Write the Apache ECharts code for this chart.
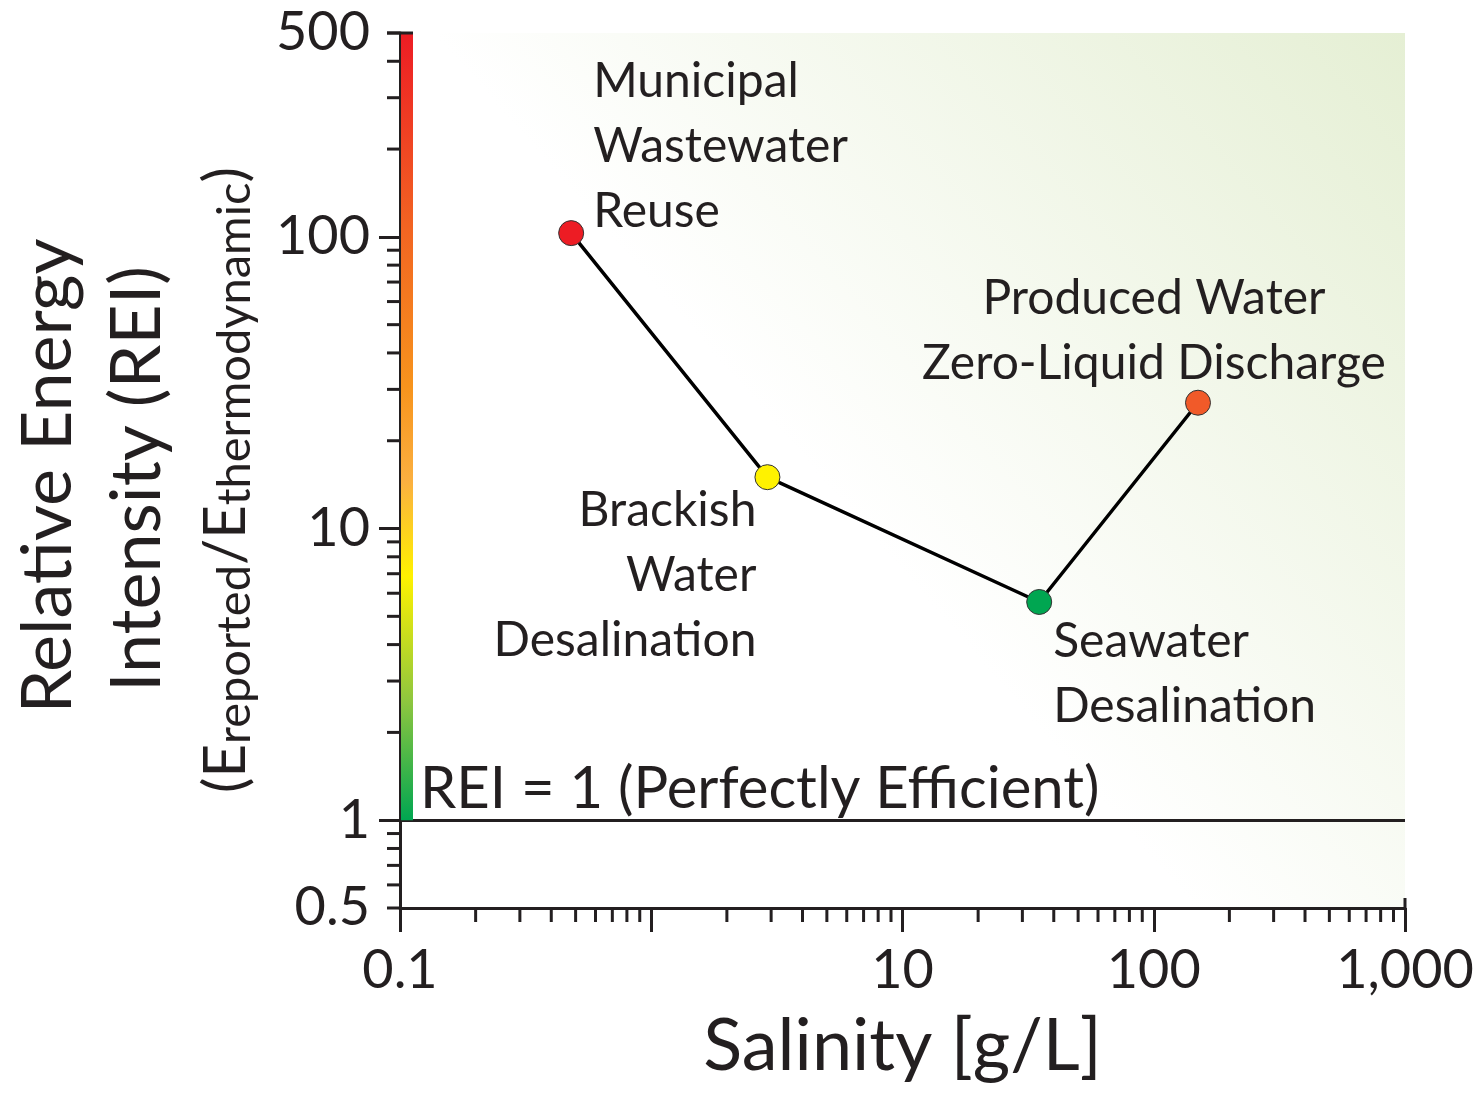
<!DOCTYPE html>
<html>
<head>
<meta charset="utf-8">
<script src="https://cdn.jsdelivr.net/npm/echarts@6/dist/echarts.min.js"></script>
<style>
  html, body { margin: 0; padding: 0; background: #fff; }
  #chart { width: 1481px; height: 1093px; }
</style>
</head>
<body>
<div id="chart"></div>
<script>
// values
var salinity = [0.48, 2.9, 35, 150];
var rei = [103, 15, 5.6, 27];
var processNames = [
  'Municipal\nWastewater\nReuse',
  'Brackish\nWater\nDesalination',
  'Seawater\nDesalination',
  'Produced Water\nZero-Liquid Discharge'
];
var pointColors = ['#ED1C24', '#FFF200', '#00A651', '#F15A29'];

// axis ticks / labels
var xMajorTicks = [0.1, 1, 10, 100, 1000];
var xLabelValues = [0.1, 10, 100, 1000];
var xLabelText = ['0.1', '10', '100', '1,000'];
var xMinorTicks = [0.2, 0.3, 0.4, 0.5, 0.6, 0.7, 0.8, 0.9,
  2, 3, 4, 5, 6, 7, 8, 9, 20, 30, 40, 50, 60, 70, 80, 90,
  200, 300, 400, 500, 600, 700, 800, 900];
var yMajorTicks = [1, 10, 100];
var yLabelValues = [0.5, 1, 10, 100, 500];
var yLabelText = ['0.5', '1', '10', '100', '500'];
var yMinorTicks = [0.5, 0.6, 0.7, 0.8, 0.9, 2, 3, 4, 5, 6, 7, 8, 9,
  20, 30, 40, 50, 60, 70, 80, 90, 200, 300, 400, 500];
var reiIdeal = 1;

var ink = '#231F20';
var font = 'Lato';

// where each process label sits relative to its point
var labelPlace = [
  { align: 'left', verticalAlign: 'bottom', offset: [22, 11] },
  { align: 'right', verticalAlign: 'top', offset: [-11, 1] },
  { align: 'left', verticalAlign: 'top', offset: [14, 7] },
  { align: 'center', verticalAlign: 'bottom', offset: [-44, -7] }
];

function pickLabel(values, texts, v) {
  for (var i = 0; i < values.length; i++) {
    if (Math.abs(Math.log10(values[i]) - Math.log10(v)) < 1e-6) return texts[i];
  }
  return '';
}

var myChart = echarts.init(document.getElementById('chart'), null, { renderer: 'canvas' });

var barGradient = new echarts.graphic.LinearGradient(0, 0, 0, 1, [
  { offset: 0, color: '#ED1C24' },
  { offset: 0.25, color: '#F26522' },
  { offset: 0.45, color: '#F7941D' },
  { offset: 0.57, color: '#FBB040' },
  { offset: 0.69, color: '#FFF200' },
  { offset: 0.85, color: '#8DC63F' },
  { offset: 1, color: '#00A651' }
]);

var option = {
  animation: false,
  backgroundColor: '#ffffff',
  grid: {
    left: 400, right: 76, top: 33, bottom: 185,
    show: true, borderWidth: 0,
    backgroundColor: new echarts.graphic.LinearGradient(0, 1, 1, 0, [
      { offset: 0, color: '#ffffff' },
      { offset: 0.45, color: '#ffffff' },
      { offset: 1, color: '#E5EFD4' }
    ])
  },
  xAxis: {
    type: 'log', logBase: 10, min: 0.1, max: 1000,
    name: 'Salinity [g/L]', nameLocation: 'middle', nameGap: 103,
    nameTextStyle: { fontFamily: font, fontSize: 72, color: ink },
    axisLine: { lineStyle: { color: ink, width: 3 } },
    axisTick: { customValues: xMajorTicks, length: 24, lineStyle: { color: ink, width: 3 } },
    axisLabel: {
      customValues: xLabelValues, margin: 36,
      fontFamily: font, fontSize: 54, color: ink,
      formatter: function (v) { return pickLabel(xLabelValues, xLabelText, v); }
    },
    splitLine: { show: false }
  },
  yAxis: {
    type: 'log', logBase: 10, min: 0.5, max: 500,
    axisLine: { lineStyle: { color: ink, width: 3 } },
    axisTick: { customValues: yMajorTicks, length: 21, lineStyle: { color: ink, width: 3 } },
    axisLabel: {
      customValues: yLabelValues, margin: 30,
      fontFamily: font, fontSize: 54, color: ink,
      formatter: function (v) { return pickLabel(yLabelValues, yLabelText, v); }
    },
    splitLine: { show: false }
  },
  graphic: [
    {
      type: 'text', x: 48, y: 476, rotation: Math.PI / 2,
      style: { text: 'Relative Energy', fontFamily: font, fontSize: 70, fill: ink, align: 'center', verticalAlign: 'middle' }
    },
    {
      type: 'text', x: 137, y: 479, rotation: Math.PI / 2,
      style: { text: 'Intensity (REI)', fontFamily: font, fontSize: 70, fill: ink, align: 'center', verticalAlign: 'middle' }
    },
    {
      type: 'text', x: 226, y: 480, rotation: Math.PI / 2,
      style: {
        text: '{m|(E}{s|reported}{m|/E}{s|thermodynamic}{m|)}',
        align: 'center', verticalAlign: 'middle',
        rich: {
          m: { fontFamily: font, fontSize: 58, fill: ink },
          s: { fontFamily: font, fontSize: 47, fill: ink, padding: [18, 0, 0, 0] }
        }
      }
    }
  ],
  series: [
    {
      name: 'colour bar',
      type: 'custom', clip: false, silent: true, z: 5,
      data: [[xMajorTicks[0], reiIdeal, yLabelValues[yLabelValues.length - 1], xMajorTicks[xMajorTicks.length - 1]]],
      renderItem: function (params, api) {
        var bottom = api.coord([api.value(0), api.value(1)]);
        var top = api.coord([api.value(0), api.value(2)]);
        var xEnd = api.coord([api.value(3), yLabelValues[0]]);
        return {
          type: 'group',
          children: [
            { type: 'rect', shape: { x: bottom[0] + 1, y: top[1], width: 12, height: bottom[1] - top[1] }, style: { fill: barGradient } },
            { type: 'line', shape: { x1: top[0] - 13, y1: top[1], x2: top[0] + 13, y2: top[1] }, style: { stroke: ink, lineWidth: 3 } },
            { type: 'line', shape: { x1: xEnd[0], y1: xEnd[1] - 10, x2: xEnd[0], y2: xEnd[1] }, style: { stroke: ink, lineWidth: 3 } }
          ]
        };
      }
    },
    {
      name: 'x minor ticks',
      type: 'custom', clip: false, silent: true,
      data: xMinorTicks.map(function (v) { return [v, yLabelValues[0]]; }),
      renderItem: function (params, api) {
        var p = api.coord([api.value(0), api.value(1)]);
        return { type: 'line', shape: { x1: p[0], y1: p[1], x2: p[0], y2: p[1] + 14 }, style: { stroke: ink, lineWidth: 3 } };
      }
    },
    {
      name: 'y minor ticks',
      type: 'custom', clip: false, silent: true,
      data: yMinorTicks.map(function (v) { return [xMajorTicks[0], v]; }),
      renderItem: function (params, api) {
        var p = api.coord([api.value(0), api.value(1)]);
        return { type: 'line', shape: { x1: p[0] - 13, y1: p[1], x2: p[0], y2: p[1] }, style: { stroke: ink, lineWidth: 3 } };
      }
    },
    {
      name: 'REI',
      type: 'line', z: 10,
      symbol: 'circle', symbolSize: 25,
      lineStyle: { color: '#000', width: 3.5 },
      itemStyle: { borderColor: '#333', borderWidth: 1 },
      data: salinity.map(function (s, i) {
        return {
          value: [s, rei[i]],
          itemStyle: { color: pointColors[i] },
          label: {
            show: true, position: 'inside',
            formatter: processNames[i],
            align: labelPlace[i].align,
            verticalAlign: labelPlace[i].verticalAlign,
            offset: labelPlace[i].offset,
            fontFamily: font, fontSize: 48, lineHeight: 65, color: ink
          }
        };
      }),
      markLine: {
        silent: true, symbol: 'none', animation: false,
        lineStyle: { color: ink, width: 3, type: 'solid' },
        label: {
          show: true, position: 'insideStartTop', distance: [20, 2],
          formatter: 'REI = 1 (Perfectly Efficient)',
          fontFamily: font, fontSize: 58, color: ink
        },
        data: [{ yAxis: reiIdeal }]
      }
    }
  ]
};

myChart.setOption(option);
window.addEventListener('resize', function () {
  myChart.resize();
});
</script>
</body>
</html>
